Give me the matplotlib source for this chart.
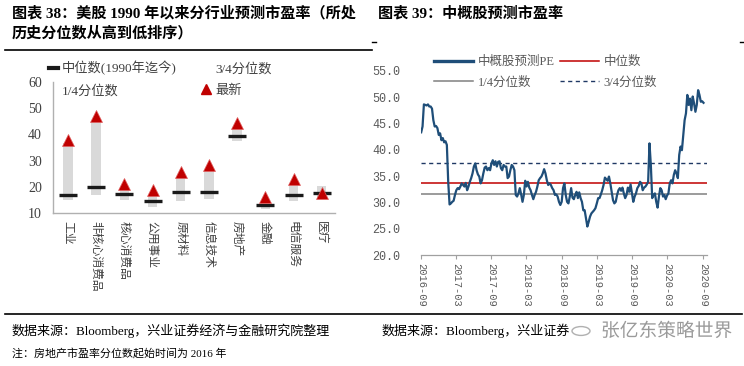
import numpy as np
import pandas as pd
import matplotlib
matplotlib.use("Agg")
import matplotlib.pyplot as plt
import matplotlib.dates as mdates
from matplotlib.lines import Line2D
from matplotlib.patches import Circle
import matplotlib.patheffects as pe

MIX = ['Liberation Serif', 'Noto Sans CJK SC']
MONO = ['Liberation Mono', 'Noto Sans CJK SC']
plt.rcParams['font.family'] = MIX

# ---- chart 38: sector forward PE since 1990
sectors = ['工业', '非核心消费品', '核心消费品', '公用事业', '原材料',
           '信息技术', '房地产', '金融', '电信服务', '医疗']
q1 = [15.1, 17.0, 15.1, 12.2, 14.5, 15.5, 37.4, 11.7, 14.5, 15.7]
q3 = [36.7, 45.6, 18.9, 16.4, 23.6, 26.5, 42.7, 14.5, 21.1, 20.4]
median = [16.9, 19.9, 17.3, 14.6, 17.9, 18.1, 39.5, 13.1, 16.9, 17.8]
latest = [37.9, 47.1, 21.2, 18.7, 25.5, 28.2, 44.5, 16.1, 23.0, 17.5]

# ---- chart 39: China ADR forward PE, weekly
pe_vals = [43.3, 44.4, 48.6, 48.5, 48.4, 48.6, 48.2, 48.2, 47.8, 45.6,
           44.4, 44.5, 44.1, 42.8, 43.1, 41.8, 42.2, 41.4, 41.6, 40.9,
           33.9, 29.6, 29.8, 30.1, 30.3, 31.4, 32.3, 32.7, 32.5, 33.0,
           33.6, 33.3, 33.0, 33.7, 32.3, 33.0, 33.9, 34.6, 35.5, 36.8,
           37.4, 36.1, 35.3, 34.9, 33.6, 34.2, 35.5, 36.6, 36.8, 36.1,
           36.5, 36.1, 37.4, 38.0, 37.1, 37.8, 36.8, 37.7, 37.8, 36.5,
           36.1, 37.1, 36.8, 36.8, 34.6, 34.9, 36.1, 37.1, 36.8, 36.1,
           31.4, 31.1, 31.7, 32.7, 31.5, 30.1, 31.4, 34.1, 33.0, 33.9,
           32.8, 32.3, 31.4, 30.6, 31.4, 32.0, 33.0, 34.2, 34.6, 34.9,
           35.5, 36.3, 35.5, 34.2, 33.3, 33.6, 33.3, 32.7, 32.3, 31.4,
           31.5, 31.1, 30.1, 29.5, 30.1, 32.7, 33.6, 31.4, 30.1, 29.8,
           31.1, 32.7, 30.9, 30.6, 31.4, 32.0, 30.8, 31.9, 30.8, 30.1,
           28.5, 28.5, 27.0, 25.4, 26.3, 27.3, 27.9, 28.2, 28.5, 28.9,
           29.8, 30.8, 30.8, 31.5, 32.3, 33.3, 34.7, 34.4, 34.1, 34.9,
           33.6, 32.0, 30.4, 29.8, 30.1, 31.4, 32.3, 32.7, 32.2, 32.8,
           31.7, 30.8, 31.4, 32.8, 32.0, 33.4, 31.7, 30.1, 31.1, 31.7,
           32.7, 33.1, 33.9, 33.6, 32.3, 32.8, 33.0, 33.4, 33.9, 41.2,
           37.1, 30.8, 31.4, 31.7, 30.1, 29.0, 31.1, 32.7, 32.3, 31.1,
           31.4, 30.6, 31.3, 31.7, 33.6, 34.2, 33.6, 35.2, 36.1, 35.5,
           34.6, 39.0, 40.6, 39.9, 42.8, 45.6, 46.9, 50.4, 48.5, 49.7,
           47.5, 50.1, 48.8, 47.2, 48.5, 51.3, 50.4, 49.1, 49.2, 48.9]
pe_dates = pd.date_range('2016-09-02', periods=len(pe_vals), freq='W-FRI')
pe_median = 33.7
pe_q1 = 31.5
pe_q3 = 37.4
tick_dates = pd.date_range('2016-09-01', '2020-09-01', freq='6MS')

W, H = 744, 366
fig = plt.figure(figsize=(W / 100, H / 100), dpi=100)


def fx(px):
    return px / W


def fy(py):
    return 1 - py / H


# ---------- left panel
ax1 = fig.add_axes([fx(53), fy(213), fx(335 - 53), (213 - 82) / H])
x = np.arange(len(sectors))
ax1.bar(x, np.array(q3) - np.array(q1), bottom=q1, width=0.33,
        color='#d9d9d9', zorder=1)
ax1.plot(x, median, ls='none', marker='_', ms=12.5, mew=2.4,
         color='#1a1a1a', zorder=2)
ax1.plot(x, latest, ls='none', marker='^', ms=8, color='#c00000',
         mec='#e06060', mew=0.5, zorder=3)
ax1.set_xlim(-0.53, 9.47)
ax1.set_ylim(10, 60)
ax1.set_yticks([10, 20, 30, 40, 50, 60])
ax1.set_xticks(x)
ax1.set_xticklabels(sectors, rotation=-90, ha='center', va='top',
                    fontsize=8.5, color='#404040', family='Noto Sans CJK SC')
ax1.tick_params(axis='both', length=0)
ax1.tick_params(axis='y', pad=8, labelsize=10, labelcolor='#404040')
ax1.tick_params(axis='x', pad=6)
for s in ['top', 'right']:
    ax1.spines[s].set_visible(False)
for s in ['left', 'bottom']:
    ax1.spines[s].set_color('#b0b0b0')
    ax1.spines[s].set_linewidth(1.0)

h_med = Line2D([], [], color='#1a1a1a', lw=3)
h_q1 = Line2D([], [], color='none')
h_q3 = Line2D([], [], color='none')
h_lat = Line2D([], [], ls='none', marker='^', ms=6.5, color='#c00000')
fig.legend([h_med, h_q1, h_q3, h_lat],
           ['中位数(1990年迄今)', '1/4分位数', '3/4分位数', '最新'],
           loc='upper left', bbox_to_anchor=(fx(49), fy(61)), ncol=2,
           frameon=False, fontsize=9.5, handlelength=0.65, handletextpad=0.35,
           columnspacing=1.9, labelspacing=0.7, borderpad=0, borderaxespad=0,
           labelcolor='#404040')

# ---------- right panel
ax2 = fig.add_axes([fx(421), fy(255), fx(707 - 421), (255 - 70.7) / H])
ax2.plot(pe_dates, pe_vals, color='#1f4e79', lw=1.6, zorder=3)
ax2.axhline(pe_median, color='#c00000', lw=1.1, zorder=2)
ax2.axhline(pe_q1, color='#808080', lw=1.1, zorder=2)
ax2.axhline(pe_q3, color='#1f3864', lw=1.0, ls=(0, (3, 2.5)), zorder=2)
ax2.set_xlim(pd.Timestamp('2016-09-01'), pd.Timestamp('2020-09-22'))
ax2.set_ylim(20, 55)
ax2.set_yticks(np.arange(20, 56, 5))
ax2.yaxis.set_major_formatter(matplotlib.ticker.FormatStrFormatter('%.1f'))
ax2.set_xticks(tick_dates)
ax2.xaxis.set_major_formatter(mdates.DateFormatter('%Y-%m'))
for lab in ax2.get_yticklabels():
    lab.set_family(MONO)
ax2.tick_params(axis='y', length=0, pad=15, labelsize=8.5, labelcolor='#595959')
ax2.tick_params(axis='x', length=3, width=0.8, color='#a0a0a0', pad=3,
                labelsize=7.5, labelcolor='#595959', labelrotation=-90)
for lab in ax2.get_xticklabels():
    lab.set_family(MONO)
    lab.set_va('top')
    lab.set_ha('center')
for s in ['top', 'right', 'left']:
    ax2.spines[s].set_visible(False)
ax2.spines['bottom'].set_color('#a0a0a0')
ax2.spines['bottom'].set_linewidth(0.9)

r_handles = [Line2D([], [], color='#1f4e79', lw=2.4),
             Line2D([], [], color='#808080', lw=1.1),
             Line2D([], [], color='#c00000', lw=1.1),
             Line2D([], [], color='#1f3864', lw=1.0, ls=(0, (3, 2.5)))]
fig.legend(r_handles, ['中概股预测PE', '1/4分位数', '中位数', '3/4分位数'],
           loc='upper left', bbox_to_anchor=(fx(434), fy(56)), ncol=2,
           frameon=False, fontsize=9, handlelength=3.1, handletextpad=0.4,
           columnspacing=0.4, labelspacing=0.65, borderpad=0, borderaxespad=0,
           labelcolor='#595959')

# ---------- titles, rules and notes
fig.text(fx(12), fy(13), '图表 38：美股 1990 年以来分行业预测市盈率（所处',
         fontsize=10.9, weight='bold', va='center', ha='left')
fig.text(fx(12), fy(33), '历史分位数从高到低排序）',
         fontsize=10.9, weight='bold', va='center', ha='left')
fig.text(fx(378), fy(13), '图表 39：中概股预测市盈率',
         fontsize=10.9, weight='bold', va='center', ha='left')
fig.add_artist(Line2D([fx(5), fx(372)], [fy(50), fy(50)], color='black', lw=1.2))
fig.add_artist(Line2D([fx(372), fx(376)], [fy(42), fy(42)], color='black', lw=1.0))
fig.add_artist(Line2D([fx(740), fx(744)], [fy(42), fy(42)], color='black', lw=1.0))
fig.add_artist(Line2D([fx(5), fx(742)], [fy(314), fy(314)], color='black', lw=1.2))

fig.text(fx(12), fy(331), '数据来源：Bloomberg，兴业证券经济与金融研究院整理',
         fontsize=9.4, va='center', ha='left')
fig.text(fx(382), fy(331), '数据来源：Bloomberg，兴业证券',
         fontsize=9.4, va='center', ha='left')
fig.text(fx(12), fy(353), '注：房地产市盈率分位数起始时间为 2016 年',
         fontsize=7.9, va='center', ha='left')
# watermark
fig.add_artist(Circle((fx(581), fy(331)), 9 / W, transform=fig.transFigure,
                      fill=False, ec='#b0b0b0', lw=1.0))
wm = fig.text(fx(601), fy(331), '张亿东策略世界', fontsize=13.5, va='center',
              ha='left', color='#9a9a9a', family='Noto Sans CJK SC')
wm.set_path_effects([pe.withStroke(linewidth=3, foreground='white')])

fig.savefig('out.png', dpi=100, facecolor='white')
